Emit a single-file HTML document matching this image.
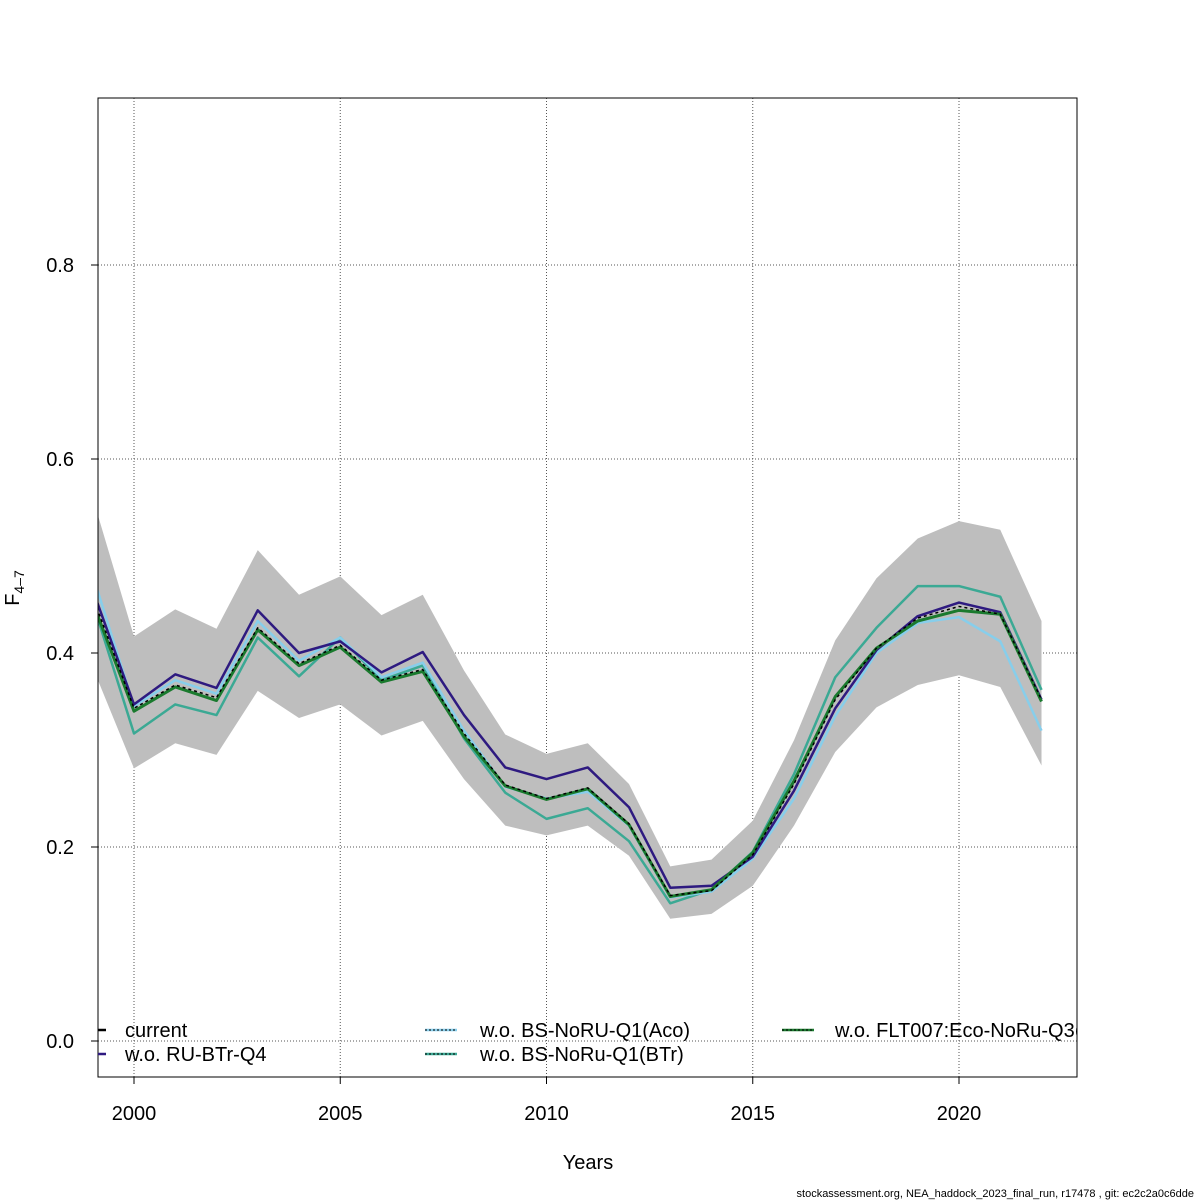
<!DOCTYPE html>
<html><head><meta charset="utf-8"><style>
html,body{margin:0;padding:0;background:#fff;}
svg{display:block;font-family:"Liberation Sans",sans-serif;}
</style></head><body>
<svg id="chart" width="1200" height="1200" viewBox="0 0 1200 1200">
<defs><clipPath id="clip"><rect x="98" y="98" width="979" height="979"/></clipPath></defs>
<g id="grid"></g>
<g id="plot" clip-path="url(#clip)"></g>
<rect x="98" y="98" width="979" height="979" fill="none" stroke="#000" stroke-width="1"/>
<g id="axes"></g>
<g id="legend" clip-path="url(#clip)"></g>
<text x="588" y="1169" font-size="20" text-anchor="middle">Years</text>
<text transform="translate(19,588) rotate(-90)" font-size="20" text-anchor="middle">F<tspan font-size="14" dy="5">4–7</tspan></text>
<text x="1194" y="1197" font-size="11" text-anchor="end">stockassessment.org, NEA_haddock_2023_final_run, r17478 , git: ec2c2a0c6dde</text>
</svg>
<script>
const years=[1999,2000,2001,2002,2003,2004,2005,2006,2007,2008,2009,2010,2011,2012,2013,2014,2015,2016,2017,2018,2019,2020,2021,2022];
const ciUpper=[0.56,0.417,0.445,0.425,0.506,0.460,0.479,0.439,0.460,0.382,0.316,0.296,0.307,0.265,0.180,0.187,0.227,0.310,0.413,0.477,0.518,0.536,0.527,0.433];
const ciLower=[0.385,0.281,0.307,0.295,0.361,0.333,0.347,0.315,0.330,0.270,0.222,0.212,0.222,0.191,0.126,0.131,0.160,0.222,0.298,0.344,0.367,0.377,0.365,0.284];
const current=[0.458,0.343,0.367,0.354,0.426,0.389,0.408,0.372,0.383,0.317,0.264,0.250,0.261,0.224,0.150,0.155,0.192,0.265,0.352,0.405,0.436,0.448,0.440,0.352];
const woRuBTr=[0.465,0.347,0.378,0.364,0.444,0.400,0.412,0.380,0.401,0.336,0.282,0.270,0.282,0.241,0.158,0.160,0.190,0.258,0.343,0.403,0.438,0.452,0.442,0.352];
const woAco=[0.48,0.345,0.372,0.358,0.433,0.392,0.416,0.375,0.390,0.320,0.262,0.250,0.257,0.222,0.148,0.154,0.188,0.250,0.335,0.400,0.431,0.437,0.412,0.320];
const woBTr=[0.452,0.317,0.347,0.336,0.416,0.376,0.416,0.372,0.387,0.312,0.256,0.229,0.240,0.206,0.142,0.156,0.195,0.275,0.375,0.426,0.469,0.469,0.458,0.362];
const woFlt=[0.452,0.340,0.365,0.351,0.424,0.387,0.406,0.370,0.381,0.314,0.263,0.249,0.260,0.223,0.149,0.156,0.194,0.268,0.355,0.405,0.433,0.444,0.440,0.350];
const xTicks=[2000,2005,2010,2015,2020];
const yTicks=[0.0,0.2,0.4,0.6,0.8];
const yTickLabels=["0.0","0.2","0.4","0.6","0.8"];
const legendLabels=["current","w.o. RU-BTr-Q4","w.o. BS-NoRU-Q1(Aco)","w.o. BS-NoRu-Q1(BTr)","w.o. FLT007:Eco-NoRu-Q3("];

const X=y=>134+(y-2000)*41.25;
const Y=v=>1041-v*970;
const NS="http://www.w3.org/2000/svg";
function mk(tag,parent,attrs){const e=document.createElementNS(NS,tag);for(const k in attrs)e.setAttribute(k,attrs[k]);parent.appendChild(e);return e;}
const grid=document.getElementById('grid'),plot=document.getElementById('plot'),axes=document.getElementById('axes'),leg=document.getElementById('legend');

xTicks.forEach(t=>{
  const l=mk('line',grid,{x1:X(t),x2:X(t),y1:98,y2:1077,stroke:'#555','stroke-dasharray':'1,2','stroke-width':1});
  
  
  const tk=mk('line',axes,{x1:X(t),x2:X(t),y1:1077,y2:1084,stroke:'#000'});
  
  
  const tx=mk('text',axes,{x:X(t),y:1120,'font-size':20,'text-anchor':'middle'});
  tx.textContent=t;
  
  
});
yTicks.forEach((t,i)=>{
  const l=mk('line',grid,{x1:98,x2:1077,y1:Y(t),y2:Y(t),stroke:'#555','stroke-dasharray':'1,2','stroke-width':1});
  
  
  const tk=mk('line',axes,{x1:91,x2:98,y1:Y(t),y2:Y(t),stroke:'#000'});
  
  
  const tx=mk('text',axes,{x:74,y:Y(t)+7,'font-size':20,'text-anchor':'end'});
  tx.textContent=yTickLabels[i];
  
  
});

let pts=years.map((y,i)=>X(y)+','+Y(ciUpper[i]));
pts=pts.concat(years.map((y,i)=>X(y)+','+Y(ciLower[i])).reverse());
const band=mk('polygon',plot,{points:pts.join(' '),fill:'#bebebe',stroke:'none'});



const series=[
  {d:woBTr,c:'#3ba994',w:2.5,dash:null,name:'series-wo-bs-noru-q1-btr'},
  {d:woAco,c:'#87ceeb',w:2.5,dash:null,name:'series-wo-bs-noru-q1-aco'},
  {d:woRuBTr,c:'#2e1a80',w:2.5,dash:null,name:'series-wo-ru-btr-q4'},
  {d:woFlt,c:'#1a7a2e',w:3,dash:null,name:'series-wo-flt007'},
  {d:current,c:'#000',w:1.5,dash:'3,3',name:'series-current'}
];
series.forEach(s=>{
  const a={points:years.map((y,i)=>X(y)+','+Y(s.d[i])).join(' '),fill:'none',stroke:s.c,'stroke-width':s.w,'stroke-linejoin':'round'};
  if(s.dash)a['stroke-dasharray']=s.dash;
  const p=mk('polyline',plot,a);
  
  
});

const legPos=[[98,1030],[98,1054],[425,1030],[425,1054],[782,1030]];
const legCol=['#000','#2e1a80','#87ceeb','#3ba994','#1a7a2e'];
legendLabels.forEach((lab,i)=>{
  const [x,y]=legPos[i];
  const lx1=x, lx2=i<2?x+8:x+32;
  const ln=mk('line',leg,{x1:lx1,x2:lx2,y1:y,y2:y,stroke:legCol[i],'stroke-width':2.5});
  
  
  if(i>=2){const d=mk('line',leg,{x1:lx1,x2:lx2,y1:y,y2:y,stroke:'#000','stroke-width':1,'stroke-dasharray':'2,2'});
    
    }
  const tx=mk('text',leg,{x:i<2?125:(i<4?480:835),y:y+7,'font-size':20});
  tx.textContent=lab;
  
  
});
</script>
</body></html>
